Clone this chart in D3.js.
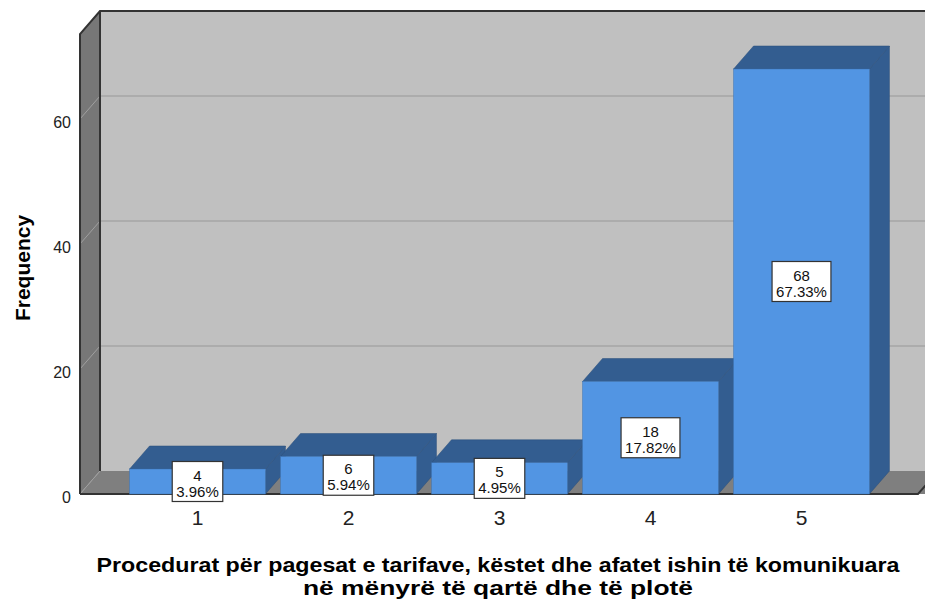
<!DOCTYPE html>
<html>
<head>
<meta charset="utf-8">
<script src="https://cdn.jsdelivr.net/npm/d3@7"></script>
<style>
  body { margin: 0; background: #fff; }
  text { font-family: "Liberation Sans", Arial, sans-serif; }
</style>
</head>
<body>
<div id="chart"></div>
<script>
var categories = ["1", "2", "3", "4", "5"];
var counts = [4, 6, 5, 18, 68];
var yTicks = [0, 20, 40, 60];
var xTitle = ["Procedurat për pagesat e tarifave, këstet dhe afatet ishin të komunikuara",
              "në mënyrë të qartë dhe të plotë"];
var yTitle = "Frequency";

var width = 925, height = 602;
var dx = 20, dy = -23;          // 3d depth offset
var left = 80, floorY = 494, right = 918;

var total = d3.sum(counts);
var pct = d3.format(".2%");

var svg = d3.select("#chart").append("svg")
    .attr("width", width)
    .attr("height", height);

var y = d3.scaleLinear().domain([0, 73.6]).range([floorY, 34]);
var x = d3.scaleBand().domain(categories).range([122, 877]).padding(0);
var barW = x.bandwidth() * 0.9;

// back wall
svg.append("rect")
    .attr("x", left + dx).attr("y", y.range()[1] + dy)
    .attr("width", width - left - dx + 5)
    .attr("height", floorY - y.range()[1])
    .style("fill", "#c0c0c0");

// left wall
svg.append("polygon")
    .attr("points", [[left, floorY], [left, y.range()[1]], [left + dx, y.range()[1] + dy], [left + dx, floorY + dy]].join(" "))
    .style("fill", "#777777");

// floor
svg.append("polygon")
    .attr("points", [[left, floorY], [left + dx, floorY + dy], [right + dx + 10, floorY + dy], [right + 10, floorY], [right, floorY]].join(" "))
    .style("fill", "#7f7f7f");

// gridlines (back wall + left wall)
svg.selectAll(".grid").data(yTicks.filter(function(d) { return d > 0; }))
  .enter().append("line")
    .attr("x1", left + dx).attr("x2", width)
    .attr("y1", function(d) { return y(d) + dy; })
    .attr("y2", function(d) { return y(d) + dy; })
    .style("stroke", "#a6a6a6").style("stroke-width", 1.5);

svg.selectAll(".sgrid").data(yTicks)
  .enter().append("line")
    .attr("x1", left).attr("x2", left + dx)
    .attr("y1", function(d) { return y(d); })
    .attr("y2", function(d) { return y(d) + dy; })
    .style("stroke", "#a0a0a0").style("stroke-width", 1);

// wall edges
var edge = "#333333";
svg.append("path")
    .attr("d", "M" + left + "," + floorY + "V" + y.range()[1] + "L" + (left + dx) + "," + (y.range()[1] + dy) + "H" + width)
    .style("fill", "none").style("stroke", edge).style("stroke-width", 2);
svg.append("line")
    .attr("x1", left + dx).attr("x2", left + dx)
    .attr("y1", y.range()[1] + dy).attr("y2", floorY + dy)
    .style("stroke", edge).style("stroke-width", 2);
svg.append("path")
    .attr("d", "M" + left + "," + floorY + "H" + right + "L" + (right + dx) + "," + (floorY + dy))
    .style("fill", "none").style("stroke", edge).style("stroke-width", 2);

// bars
var bars = svg.selectAll(".bar").data(counts)
  .enter().append("g").attr("class", "bar");

function x0(d, i) { return x(categories[i]) + (x.bandwidth() - barW) / 2; }

bars.append("polygon")   // side
    .attr("points", function(d, i) {
      var a = x0(d, i) + barW, t = y(d);
      return [[a, t], [a + dx, t + dy], [a + dx, floorY + dy], [a, floorY]].join(" ");
    })
    .style("fill", "#335d90").style("stroke", "#2a4e7a").style("stroke-width", 0.5);

bars.append("polygon")   // top
    .attr("points", function(d, i) {
      var a = x0(d, i), t = y(d);
      return [[a, t], [a + dx, t + dy], [a + barW + dx, t + dy], [a + barW, t]].join(" ");
    })
    .style("fill", "#335d90").style("stroke", "#2a4e7a").style("stroke-width", 0.5);

bars.append("rect")      // front
    .attr("x", x0)
    .attr("y", function(d) { return y(d); })
    .attr("width", barW)
    .attr("height", function(d) { return floorY - y(d); })
    .style("fill", "#5295e3").style("stroke", "#3f74b3").style("stroke-width", 0.5);

// value labels
bars.each(function(d, i) {
  var g = d3.select(this);
  var cx = x(categories[i]) + x.bandwidth() / 2;
  var cy = (y(d) + floorY) / 2;
  var box = g.append("rect").style("fill", "#fff").style("stroke", "#333").style("stroke-width", 1.2);
  var t1 = g.append("text").attr("x", cx).attr("y", cy - 1)
      .attr("text-anchor", "middle").style("font-size", "15px").style("fill", "#111").text(d);
  var t2 = g.append("text").attr("x", cx).attr("y", cy + 15)
      .attr("text-anchor", "middle").style("font-size", "15px").style("fill", "#111").text(pct(d / total));
  var w = Math.max(t1.node().getComputedTextLength(), t2.node().getComputedTextLength()) + 8;
  box.attr("x", cx - w / 2).attr("y", cy - 20).attr("width", w).attr("height", 40);
});

// y tick labels
svg.selectAll(".ytick").data(yTicks)
  .enter().append("text")
    .attr("x", 71)
    .attr("y", function(d) { return y(d) + 9; })
    .attr("text-anchor", "end")
    .style("font-size", "16px").style("fill", "#222")
    .text(function(d) { return d; });

// x tick labels
svg.selectAll(".xtick").data(categories)
  .enter().append("text")
    .attr("x", function(d) { return x(d) + x.bandwidth() / 2; })
    .attr("y", 525)
    .attr("text-anchor", "middle")
    .style("font-size", "21px").style("fill", "#222")
    .text(function(d) { return d; });

// axis titles
svg.append("text")
    .attr("transform", "translate(30,268) rotate(-90)")
    .attr("text-anchor", "middle")
    .style("font-size", "21px").style("font-weight", "bold")
    .text(yTitle);

svg.selectAll(".xtitle").data(xTitle)
  .enter().append("text")
    .attr("x", 498)
    .attr("y", function(d, i) { return 572 + i * 23; })
    .attr("text-anchor", "middle")
    .style("font-size", "21px").style("font-weight", "bold")
    .attr("textLength", function(d, i) { return i === 0 ? 803 : 390; })
    .attr("lengthAdjust", "spacingAndGlyphs")
    .text(function(d) { return d; });
</script>
</body>
</html>
